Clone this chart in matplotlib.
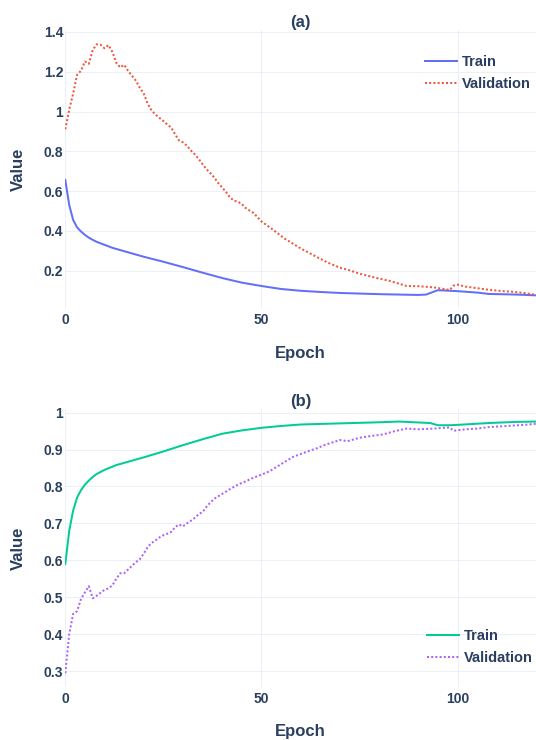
import matplotlib
matplotlib.use("Agg")
import matplotlib.pyplot as plt

# panel (a) - loss
train_a_epochs = [0, 1, 2, 3, 4, 5, 6, 7, 8, 10, 12, 15, 20, 25, 30, 35, 40, 45, 50, 55,
                  60, 65, 70, 80, 90, 92, 94, 95, 98, 100, 105, 108, 115, 120]
train_a_values = [0.656, 0.53, 0.455, 0.418, 0.397, 0.38, 0.366, 0.355, 0.345, 0.33,
                  0.315, 0.298, 0.27, 0.245, 0.218, 0.19, 0.163, 0.14, 0.123, 0.108,
                  0.099, 0.093, 0.088, 0.082, 0.078, 0.080, 0.095, 0.102, 0.099, 0.097,
                  0.09, 0.083, 0.08, 0.076]

val_a_epochs = [0, 1, 2, 3, 4, 5, 6, 7, 8, 9, 10, 11, 12, 13, 14, 15, 16, 17, 18, 19,
                20, 21, 22, 23, 24, 25, 26, 27, 28, 29, 30, 31, 32, 33, 34, 35, 36, 37,
                38, 39, 40, 41, 42, 43, 44, 45, 46, 47, 48, 50, 53, 56, 60, 64, 67, 70,
                72, 75, 79, 83, 87, 90, 94, 98, 99, 100, 102, 105, 108, 111, 114, 117, 120]
val_a_values = [0.911, 1.01, 1.09, 1.185, 1.205, 1.252, 1.24, 1.31, 1.338, 1.336, 1.318,
                1.334, 1.30, 1.245, 1.222, 1.235, 1.205, 1.18, 1.155, 1.12, 1.09, 1.04,
                1.005, 0.985, 0.968, 0.952, 0.935, 0.92, 0.885, 0.855, 0.845, 0.828,
                0.805, 0.785, 0.762, 0.735, 0.71, 0.69, 0.668, 0.64, 0.618, 0.595, 0.568,
                0.552, 0.547, 0.535, 0.515, 0.502, 0.49, 0.448, 0.405, 0.36, 0.312, 0.27,
                0.24, 0.215, 0.205, 0.185, 0.165, 0.147, 0.123, 0.122, 0.116, 0.103,
                0.125, 0.13, 0.12, 0.112, 0.104, 0.098, 0.094, 0.088, 0.078]

# panel (b) - accuracy
train_b_epochs = [0, 1, 2, 3, 4, 5, 6, 7, 8, 10, 13, 16, 20, 25, 30, 35, 40, 45, 50, 55,
                  60, 70, 80, 85, 93, 95, 98, 100, 108, 115, 120]
train_b_values = [0.59, 0.68, 0.735, 0.77, 0.79, 0.805, 0.816, 0.826, 0.834, 0.845, 0.858,
                  0.867, 0.879, 0.895, 0.912, 0.928, 0.943, 0.952, 0.959, 0.964, 0.968,
                  0.971, 0.974, 0.976, 0.972, 0.966, 0.966, 0.967, 0.972, 0.975, 0.976]

val_b_epochs = [0, 1, 2, 3, 4, 5, 6, 7, 8, 9, 10, 11, 12, 13, 14, 15, 16, 17, 18, 19, 20,
                21, 22, 23, 24, 25, 26, 27, 28, 29, 30, 31, 32, 33, 34, 35, 36, 37, 38, 40,
                42, 44, 46, 48, 50, 52, 54, 56, 58, 60, 62, 64, 66, 68, 70, 72, 75, 78, 81,
                84, 87, 90, 94, 98, 99, 102, 105, 108, 111, 114, 117, 120]
val_b_values = [0.294, 0.40, 0.455, 0.462, 0.495, 0.513, 0.53, 0.497, 0.504, 0.512, 0.52,
                0.524, 0.532, 0.55, 0.565, 0.565, 0.575, 0.585, 0.595, 0.603, 0.618, 0.636,
                0.647, 0.654, 0.662, 0.668, 0.672, 0.677, 0.69, 0.697, 0.692, 0.70, 0.707,
                0.715, 0.725, 0.731, 0.745, 0.757, 0.767, 0.78, 0.793, 0.805, 0.814, 0.824,
                0.832, 0.841, 0.854, 0.867, 0.88, 0.888, 0.896, 0.903, 0.912, 0.919, 0.926,
                0.923, 0.932, 0.937, 0.941, 0.95, 0.957, 0.955, 0.957, 0.96, 0.951, 0.955,
                0.957, 0.961, 0.963, 0.965, 0.967, 0.97]

yticks_a = [0.2, 0.4, 0.6, 0.8, 1.0, 1.2, 1.4]
yticks_b = [0.3, 0.4, 0.5, 0.6, 0.7, 0.8, 0.9, 1.0]
xticks = [0, 50, 100]

TEXT = "#2a3f5f"
GRID = "#ebf0f8"
PX = 72 / 100  # one pixel in points

plt.rcParams["font.family"] = ["Liberation Sans", "DejaVu Sans"]
plt.rcParams["font.weight"] = "bold"


def fmt(v):
    return "%g" % v


def style_axes(ax, yticks, ylim, title):
    ax.set_xlim(0, 120)
    ax.set_ylim(*ylim)
    ax.set_xticks(xticks)
    ax.set_xticklabels([fmt(t) for t in xticks])
    ax.set_yticks(yticks)
    ax.set_yticklabels([fmt(t) for t in yticks])
    ax.tick_params(length=0, labelsize=10, labelcolor=TEXT)
    ax.tick_params(axis="x", pad=3.5)
    ax.tick_params(axis="y", pad=1.5)
    for s in ax.spines.values():
        s.set_visible(False)
    ax.grid(True, color=GRID, lw=1 * PX)
    ax.axvline(0, color=GRID, lw=2 * PX, zorder=1)
    ax.set_axisbelow(True)
    ax.set_xlabel("Epoch", fontsize=12, color=TEXT, fontweight="bold", labelpad=13.5)
    ax.set_ylabel("Value", fontsize=12, color=TEXT, fontweight="bold", labelpad=12.5)
    ax.set_title(title, fontsize=12, color=TEXT, fontweight="bold", pad=1.5)


def add_legend(ax, fig, x_px, y_px):
    ax.legend(loc="upper left", bbox_to_anchor=(x_px / 536, 1 - y_px / 740),
              bbox_transform=fig.transFigure, frameon=False, borderpad=0,
              borderaxespad=0, handlelength=2.2, handletextpad=0.36,
              labelspacing=0.55, prop={"size": 10.5, "weight": "bold"},
              labelcolor=TEXT)


def main():
    fig = plt.figure(figsize=(5.36, 7.4), dpi=100)
    ax1 = fig.add_axes([65.3 / 536, 1 - 308 / 740, (536 - 65.3) / 536, 278 / 740])
    ax2 = fig.add_axes([65.3 / 536, 1 - 686.7 / 740, (536 - 65.3) / 536, 277.7 / 740])

    dot = (0, (1.0, 1.1))
    lw = 2 * PX

    ax1.plot(train_a_epochs, train_a_values, color="#636efa", lw=lw, label="Train")
    ax1.plot(val_a_epochs, val_a_values, color="#ef553b", lw=lw, ls=dot,
             dash_capstyle="butt", label="Validation")
    style_axes(ax1, yticks_a, (0.0124, 1.41), "(a)")
    add_legend(ax1, fig, 425, 55)

    ax2.plot(train_b_epochs, train_b_values, color="#00cc96", lw=lw, label="Train")
    ax2.plot(val_b_epochs, val_b_values, color="#ab63fa", lw=lw, ls=dot,
             dash_capstyle="butt", label="Validation")
    style_axes(ax2, yticks_b, (0.2575, 1.010), "(b)")
    add_legend(ax2, fig, 426.7, 629)

    fig.savefig("out.png", dpi=100, facecolor="white")


if __name__ == "__main__":
    main()
